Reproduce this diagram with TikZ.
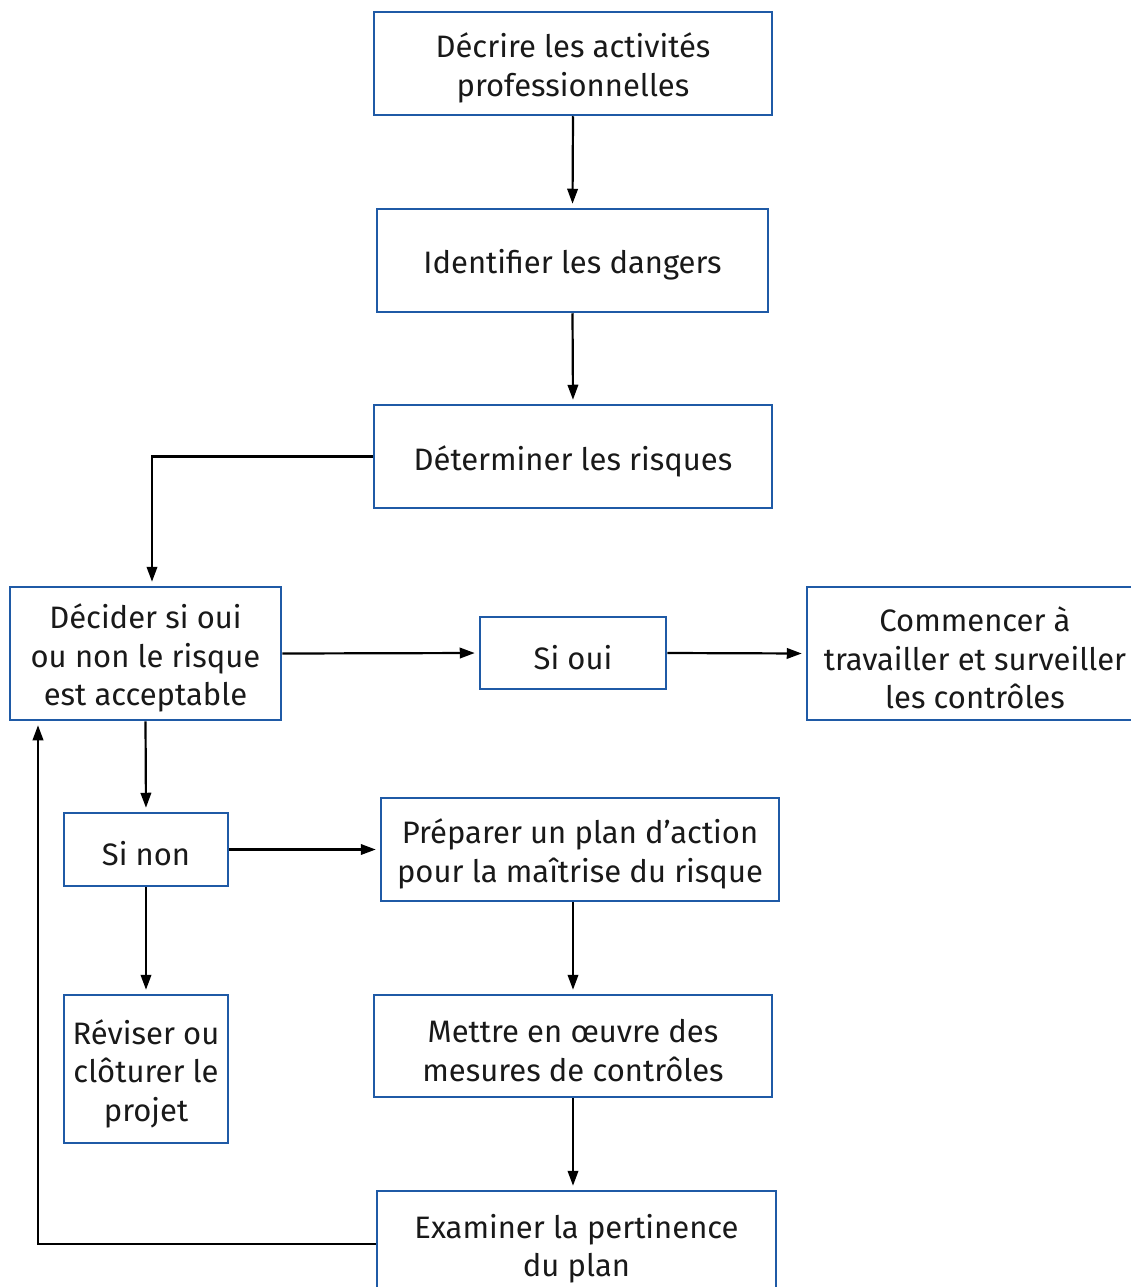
\documentclass[tikz,border=0pt]{standalone}
\usepackage{fontspec}
\setmainfont{Fira Sans}
\usetikzlibrary{arrows.meta}
\definecolor{boxblue}{HTML}{1F5AA6}
\tikzset{
  flowbox/.style={draw=boxblue, line width=2.5pt, fill=white, inner sep=0pt,
    label={[flowtext]center:{#1}}},
  flowtext/.style={align=center, inner sep=0pt, yshift=-4.5pt,
    font=\fontsize{31}{38.5}\selectfont, text=black!90},
  arr/.style={line width=2.2pt, draw=black, -{Triangle[length=15pt,width=10.5pt]}, shorten >=4pt},
}
\begin{document}
\begin{tikzpicture}[x=1pt,y=-1pt]
\clip (0,0) rectangle (1131,1287);
\fill[white] (0,0) rectangle (1131,1287);
\node[flowbox={Décrire les activités\\professionnelles}, minimum width=398pt, minimum height=103pt] (dec) at (573,63.5) {};
\node[flowbox={Identifier les dangers}, minimum width=391pt, minimum height=103pt] (ide) at (572.5,260.5) {};
\node[flowbox={Déterminer les risques}, minimum width=398pt, minimum height=103pt] (det) at (573,456.5) {};
\node[flowbox={Décider si oui\\ou non le risque\\est acceptable}, minimum width=271pt, minimum height=133pt] (dcd) at (145.5,653.5) {};
\node[flowbox={Si oui}, minimum width=186pt, minimum height=72pt] (oui) at (573,653) {};
\node[flowbox={Commencer à\\travailler et surveiller\\les contrôles}, minimum width=336pt, minimum height=133pt] (com) at (975,653.5) {};
\node[flowbox={Si non}, minimum width=164pt, minimum height=73pt] (non) at (146,849.5) {};
\node[flowbox={Préparer un plan d’action\\pour la maîtrise du risque}, minimum width=398pt, minimum height=103pt] (pre) at (580,849.5) {};
\node[flowbox={Réviser ou\\clôturer le\\projet}, minimum width=164pt, minimum height=148pt] (rev) at (146,1069) {};
\node[flowbox={Mettre en œuvre des\\mesures de contrôles}, minimum width=398pt, minimum height=102pt] (met) at (573,1046) {};
\node[flowbox={Examiner la pertinence\\du plan}, minimum width=399pt, minimum height=106pt] (exa) at (576.5,1244) {};

\draw[arr] (dec.south) -- (ide.north);
\draw[arr] (ide.south) -- (det.north);
\draw[arr] (det.west) -| ([xshift=6.5pt]dcd.north);
\draw[arr] (dcd.east) -- (oui.west);
\draw[arr] (oui.east) -- (com.west);
\draw[arr] (dcd.south) -- (non.north);
\draw[arr] (non.east) -- (non.east -| pre.west);
\draw[arr] (non.south) -- (rev.north);
\draw[arr] (pre.south -| met.north) -- (met.north);
\draw[arr] (met.south) -- (met.south |- exa.north);
\draw[arr] (exa.west) -| ([xshift=-107.5pt]dcd.south);
\end{tikzpicture}
\end{document}
